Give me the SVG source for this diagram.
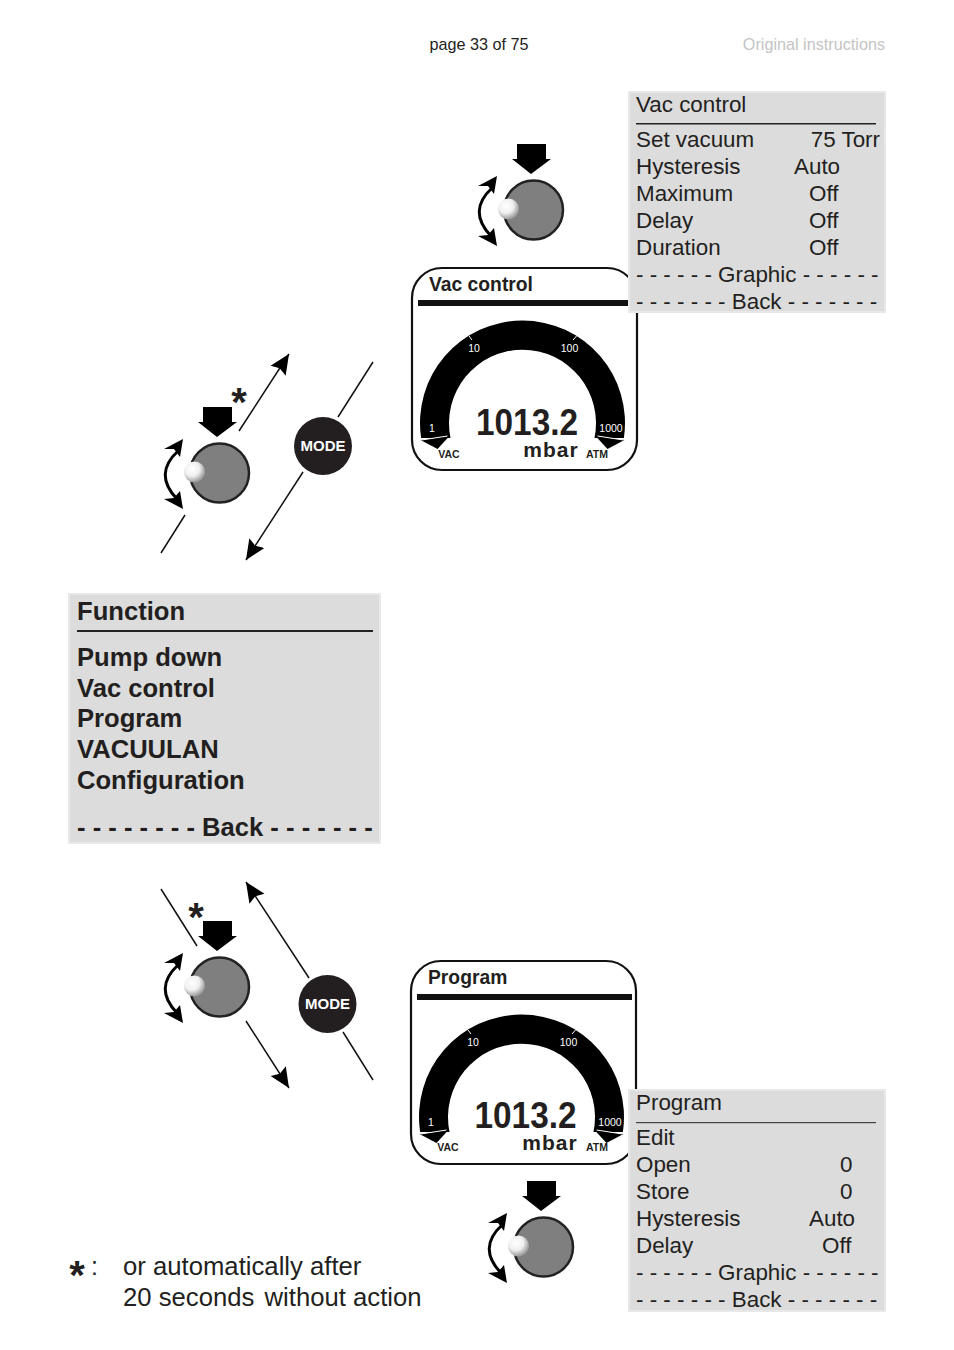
<svg xmlns="http://www.w3.org/2000/svg" width="954" height="1350" viewBox="0 0 954 1350">
<style>
text{font-family:"Liberation Sans",Arial,sans-serif;fill:#231f20}
.menu{font-size:22.400px}
.fn{font-size:25.600px;font-weight:bold}
.box{fill:#dcdcdc;stroke:#e8e8e8;stroke-width:2}
.ln{stroke:#111;stroke-width:1.5;fill:none}
.t{fill:#fff;font-size:10.500px}
.lbl{font-size:10.500px;font-weight:bold}
.ast{font-size:40px;font-weight:bold}
.big{font-size:36px;font-weight:bold}
.unit{font-size:21px;font-weight:bold;letter-spacing:1px}
.head{font-size:19.300px;font-weight:bold}
.mode{font-size:15px;font-weight:bold;fill:#fff}
</style>
<defs>
<radialGradient id="ball" cx="0.38" cy="0.35" r="0.7"><stop offset="0" stop-color="#fff"/><stop offset="0.5" stop-color="#f0f0f0"/><stop offset="1" stop-color="#8a8a8a"/></radialGradient>
<marker id="ah2" viewBox="0 0 20 20" refX="20" refY="10" markerWidth="20" markerHeight="20" markerUnits="userSpaceOnUse" orient="auto-start-reverse"><path d="M0 1L20 10L0 19L3 10Z" fill="#000"/></marker>
<g id="knob">
<path d="M-16 -66H13V-51H18L-2 -36L-21 -51H-16Z" fill="#000"/>
<circle cx="0.500" r="29.500" fill="#7f7f7f" stroke="#222" stroke-width="2.500"/>
<circle cx="-24.500" cy="-1" r="10.500" fill="url(#ball)"/>
<path d="M-41 -22Q-66 1 -42 26" fill="none" stroke="#000" stroke-width="3"/>
<path d="M-36 -34L-39 -16L-45 -24L-55 -24Z" fill="#000"/>
<path d="M-36 36L-55 26L-45 25L-39 18Z" fill="#000"/>
</g>
<g id="gauge">
<path d="M-101.400 15A102.500 102.500 0 1 1 101.400 15L72 15A73.500 73.500 0 1 0 -72 15Z" fill="#000"/>
<path d="M-102 17L-73 13L-85 26Z" fill="#000"/>
<path d="M102 17L73 13L85 26Z" fill="#000"/>
<path d="M-101 17L-75 13M101 17L75 13M-53.500 -87L-50.500 -83M54 -87L50.500 -83" stroke="#fff" stroke-width="1" fill="none"/>
</g>
</defs>
<text x="479" y="50" text-anchor="middle" font-size="16.200">page 33 of 75</text>
<text x="885" y="50" text-anchor="end" font-size="16.200" style="fill:#c4c4c4">Original instructions</text>

<g id="panel-vac">
<rect x="412" y="268" width="225" height="202" rx="30" fill="#fff" stroke="#111" stroke-width="2.200"/>
<text class="head" x="429" y="291">Vac control</text>
<rect x="418" y="300" width="215" height="6" fill="#111"/>
<use href="#gauge" x="522.500" y="423"/>
<text class="t" x="474" y="352" text-anchor="middle">10</text>
<text class="t" x="569.500" y="352" text-anchor="middle">100</text>
<text class="t" x="432" y="432" text-anchor="middle">1</text>
<text class="t" x="611" y="432" text-anchor="middle">1000</text>
<text class="big" x="527" y="435" text-anchor="middle" textLength="102" lengthAdjust="spacingAndGlyphs">1013.2</text>
<text class="unit" x="551" y="457" text-anchor="middle">mbar</text>
<text class="lbl" x="449" y="458" text-anchor="middle">VAC</text>
<text class="lbl" x="597" y="458" text-anchor="middle">ATM</text>
</g>

<g id="menu-vac">
<rect class="box" x="629" y="92" width="256" height="220"/>
<text class="menu" x="636" y="112">Vac control</text>
<rect x="636" y="123" width="240" height="1.500" fill="#222"/>
<text class="menu" x="636" y="147">Set vacuum</text><text class="menu" x="880" y="147" text-anchor="end">75 Torr</text>
<text class="menu" x="636" y="174">Hysteresis</text><text class="menu" x="794" y="174">Auto</text>
<text class="menu" x="636" y="201">Maximum</text><text class="menu" x="809" y="201">Off</text>
<text class="menu" x="636" y="228">Delay</text><text class="menu" x="809" y="228">Off</text>
<text class="menu" x="636" y="255">Duration</text><text class="menu" x="809" y="255">Off</text>
<text class="menu" x="636" y="282">- - - - - - Graphic - - - - - -</text>
<text class="menu" x="636" y="309">- - - - - - - Back - - - - - - -</text>
</g>

<g id="knob-top"><use href="#knob" x="533" y="210"/></g>
<g id="knob-mid"><use href="#knob" x="219" y="473"/>
<text class="ast" x="239" y="416" text-anchor="middle">*</text></g>

<g id="mode-top"><circle cx="323" cy="446" r="29" fill="#231f20"/>
<text class="mode" x="323" y="451" text-anchor="middle">MODE</text></g>

<g id="menu-function">
<rect class="box" x="69" y="594" width="311" height="249"/>
<text class="fn" x="77" y="620">Function</text>
<rect x="77" y="630" width="296" height="2" fill="#222"/>
<text class="fn" x="77" y="666">Pump down</text>
<text class="fn" x="77" y="697">Vac control</text>
<text class="fn" x="77" y="727">Program</text>
<text class="fn" x="77" y="758">VACUULAN</text>
<text class="fn" x="77" y="789">Configuration</text>
<text class="fn" x="77" y="836">- - - - - - - - Back - - - - - - -</text>
</g>

<g id="knob-low"><use href="#knob" x="219" y="987"/>
<text class="ast" x="196" y="931" text-anchor="middle">*</text></g>
<g id="mode-low"><circle cx="327.500" cy="1004" r="29" fill="#231f20"/>
<text class="mode" x="327.500" y="1009" text-anchor="middle">MODE</text></g>

<g id="panel-prog">
<rect x="411" y="961" width="225" height="203" rx="30" fill="#fff" stroke="#111" stroke-width="2.200"/>
<text class="head" x="428" y="984">Program</text>
<rect x="417" y="994" width="215" height="6" fill="#111"/>
<use href="#gauge" x="521.500" y="1117"/>
<text class="t" x="473" y="1046" text-anchor="middle">10</text>
<text class="t" x="568.500" y="1046" text-anchor="middle">100</text>
<text class="t" x="431" y="1126" text-anchor="middle">1</text>
<text class="t" x="610" y="1126" text-anchor="middle">1000</text>
<text class="big" x="525.500" y="1128" text-anchor="middle" textLength="102" lengthAdjust="spacingAndGlyphs">1013.2</text>
<text class="unit" x="550" y="1150" text-anchor="middle">mbar</text>
<text class="lbl" x="448" y="1151" text-anchor="middle">VAC</text>
<text class="lbl" x="597" y="1151" text-anchor="middle">ATM</text>
</g>

<g id="menu-prog">
<rect class="box" x="629" y="1090" width="256" height="221"/>
<text class="menu" x="636" y="1110">Program</text>
<rect x="636" y="1122" width="240" height="1.200" fill="#444"/>
<text class="menu" x="636" y="1145">Edit</text>
<text class="menu" x="636" y="1172">Open</text><text class="menu" x="840" y="1172">0</text>
<text class="menu" x="636" y="1199">Store</text><text class="menu" x="840" y="1199">0</text>
<text class="menu" x="636" y="1226">Hysteresis</text><text class="menu" x="809" y="1226">Auto</text>
<text class="menu" x="636" y="1253">Delay</text><text class="menu" x="822" y="1253">Off</text>
<text class="menu" x="636" y="1280">- - - - - - Graphic - - - - - -</text>
<text class="menu" x="636" y="1307">- - - - - - - Back - - - - - - -</text>
</g>

<g id="knob-bottom"><use href="#knob" x="543" y="1247"/></g>

<g id="connectors">
<path class="ln" d="M239 431L289 354" marker-end="url(#ah2)"/>
<path class="ln" d="M373 362L338 417"/>
<path class="ln" d="M303 472L246 560" marker-end="url(#ah2)"/>
<path class="ln" d="M185 515L161 553"/>
<path class="ln" d="M161 889L197 946"/>
<path class="ln" d="M309 978L246 882" marker-end="url(#ah2)"/>
<path class="ln" d="M246 1021L289 1088" marker-end="url(#ah2)"/>
<path class="ln" d="M343 1032L373 1080"/>
</g>

<g id="note">
<text class="ast" x="77" y="1289" text-anchor="middle">*</text>
<text x="91" y="1275" font-size="25">:</text>
<text x="123" y="1275" font-size="25.700">or automatically after</text>
<text x="123" y="1306" font-size="25.700">20 seconds <tspan dx="3">without action</tspan></text>
</g>
</svg>
